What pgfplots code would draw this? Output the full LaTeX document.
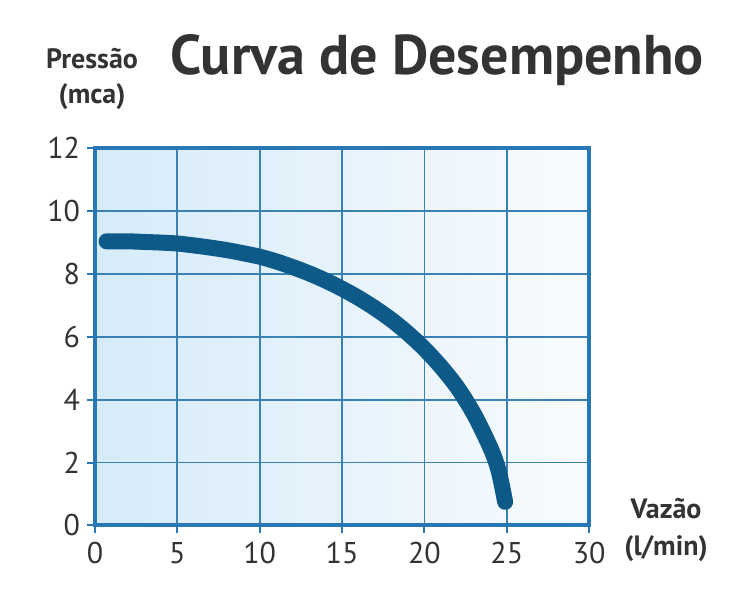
\documentclass[border=0pt]{standalone}
\usepackage{pgfplots}
\pgfplotsset{compat=1.18}
\usepackage{fontspec}
\setmainfont{PT Sans}
\definecolor{frameblue}{HTML}{2778B5}
\definecolor{gridblue}{HTML}{3A82B4}
\definecolor{curveblue}{HTML}{0D5A88}
\definecolor{bgleft}{HTML}{D6EBF9}
\definecolor{bgright}{HTML}{F8FBFE}
\definecolor{txt}{HTML}{333333}
\begin{document}
\begin{tikzpicture}
\begin{axis}[
  scale only axis, width=247pt, height=188.5pt,
  xmin=0, xmax=30, ymin=0, ymax=12,
  xtick={0,5,...,30}, ytick={0,2,...,12},
  xtick pos=bottom, ytick pos=left,
  grid=major,
  major grid style={gridblue, line width=0.9pt},
  axis line style={frameblue, line width=2pt},
  tick style={frameblue, line width=1pt},
  tick align=outside, major tick length=4pt,
  tick label style={font=\fontsize{15}{16}\selectfont, text=txt},
  /pgf/number format/assume math mode=true,
  xticklabel style={yshift=-1pt},
  axis background/.style={left color=bgleft, right color=bgright},
  clip=false,
]
\addplot[curveblue, line width=8pt, line cap=round, line join=round, smooth, tension=0.5] coordinates {
(0.7,9.04) (2,9.04) (3,9.02) (4,9.0) (5,8.97) (6,8.91) (7,8.84) (8,8.76) (9,8.66) (10,8.55) (11,8.4) (12,8.22) (13,8.02) (14,7.79) (15,7.53) (16,7.24) (17,6.91) (18,6.54) (19,6.11) (20,5.62) (21,5.05) (22,4.39) (23,3.55) (24,2.48) (24.5,1.75) (24.9,0.75)
};
\node[font=\bfseries\fontsize{14}{15}\selectfont, text=txt] at (axis cs:-0.18,14.87) {Pressão};
\node[font=\bfseries\fontsize{14}{15}\selectfont, text=txt] at (axis cs:-0.18,13.63) {(mca)};
\node[font=\bfseries\fontsize{28}{30}\selectfont, text=txt] at (axis cs:20.77,14.81) {Curva de Desempenho};
\node[font=\bfseries\fontsize{14}{15}\selectfont, text=txt] at (axis cs:34.67,0.54) {Vazão};
\node[font=\bfseries\fontsize{14}{15}\selectfont, text=txt] at (axis cs:34.67,-0.73) {(l/min)};
\path (axis cs:-5.77,-2.39) rectangle (axis cs:39.95,16.72);
\end{axis}
\end{tikzpicture}
\end{document}
